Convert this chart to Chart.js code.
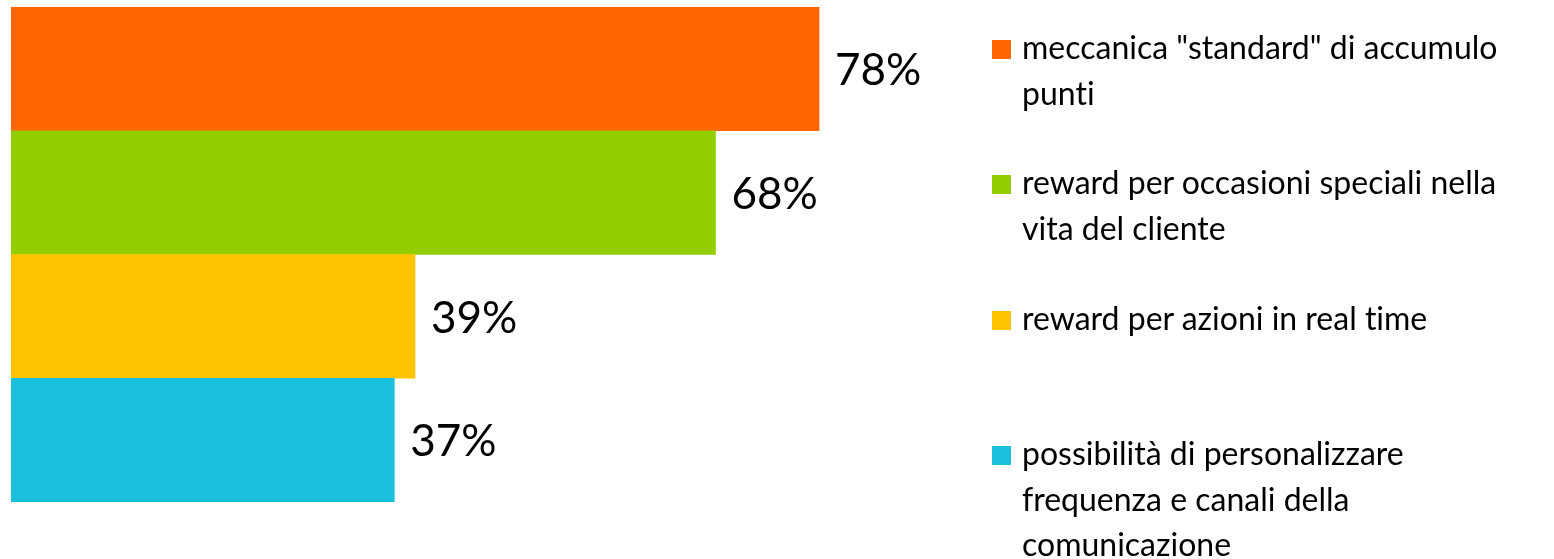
<!DOCTYPE html>
<html>
<head>
    <title>Meccaniche</title>
    <script src="https://cdn.jsdelivr.net/npm/chart.js"></script>
    <style>
        body { margin: 0; background: #fff; }
        #wrap { position: relative; width: 1554px; height: 559px; }
        #legend { position: absolute; left: 0; top: 0; font-family: Lato, sans-serif; font-size: 32px; color: #000;
                  font-variant-ligatures: none; font-feature-settings: "liga" 0; }
        .item { position: absolute; left: 1022px; line-height: 45.7px; white-space: nowrap; }
        .box { position: absolute; width: 19px; height: 19px; left: -30px; top: 16px; }
    </style>
</head>
<body>
<div id="wrap">
    <canvas id="myChart"></canvas>
    <div id="legend"></div>
</div>
<script>
    // data
    const categories = [
        ['meccanica "standard" di accumulo', 'punti'],
        ['reward per occasioni speciali nella', 'vita del cliente'],
        ['reward per azioni in real time'],
        ['possibilità di personalizzare', 'frequenza e canali della', 'comunicazione']
    ];
    const values = [78, 68, 39, 37];

    const barColors = ['#FF6600', '#92CD00', '#FFC300', '#1BBFDE'];
    const legendTops = [24, 159, 295, 430];

    // value labels next to the bars
    const valueLabels = {
        id: 'valueLabels',
        afterDatasetsDraw(chart) {
            const ctx = chart.ctx;
            ctx.save();
            ctx.font = '44px Lato, sans-serif';
            ctx.fillStyle = '#000';
            ctx.textBaseline = 'middle';
            chart.getDatasetMeta(0).data.forEach((bar, i) => {
                ctx.fillText(values[i] + '%', bar.x + 16, bar.y + 2);
            });
            ctx.restore();
        }
    };

    const ctx = document.getElementById('myChart').getContext('2d');
    new Chart(ctx, {
        type: 'bar',
        data: {
            labels: categories,
            datasets: [{
                data: values,
                backgroundColor: barColors,
                borderWidth: 0,
                categoryPercentage: 1,
                barPercentage: 1
            }]
        },
        options: {
            indexAxis: 'y',
            responsive: true,
            maintainAspectRatio: false,
            animation: false,
            layout: { padding: { left: 11, top: 7, right: 507, bottom: 57 } },
            plugins: { legend: { display: false }, tooltip: { enabled: false } },
            scales: {
                x: { display: false, min: 0, max: 100 },
                y: { display: false }
            }
        },
        plugins: [valueLabels]
    });

    // legend as html text
    const legend = document.getElementById('legend');
    categories.forEach((lines, i) => {
        const item = document.createElement('div');
        item.className = 'item';
        item.style.top = legendTops[i] + 'px';
        const box = document.createElement('span');
        box.className = 'box';
        box.style.background = barColors[i];
        item.appendChild(box);
        lines.forEach((line, j) => {
            if (j > 0) item.appendChild(document.createElement('br'));
            item.appendChild(document.createTextNode(line));
        });
        legend.appendChild(item);
    });
</script>
</body>
</html>
